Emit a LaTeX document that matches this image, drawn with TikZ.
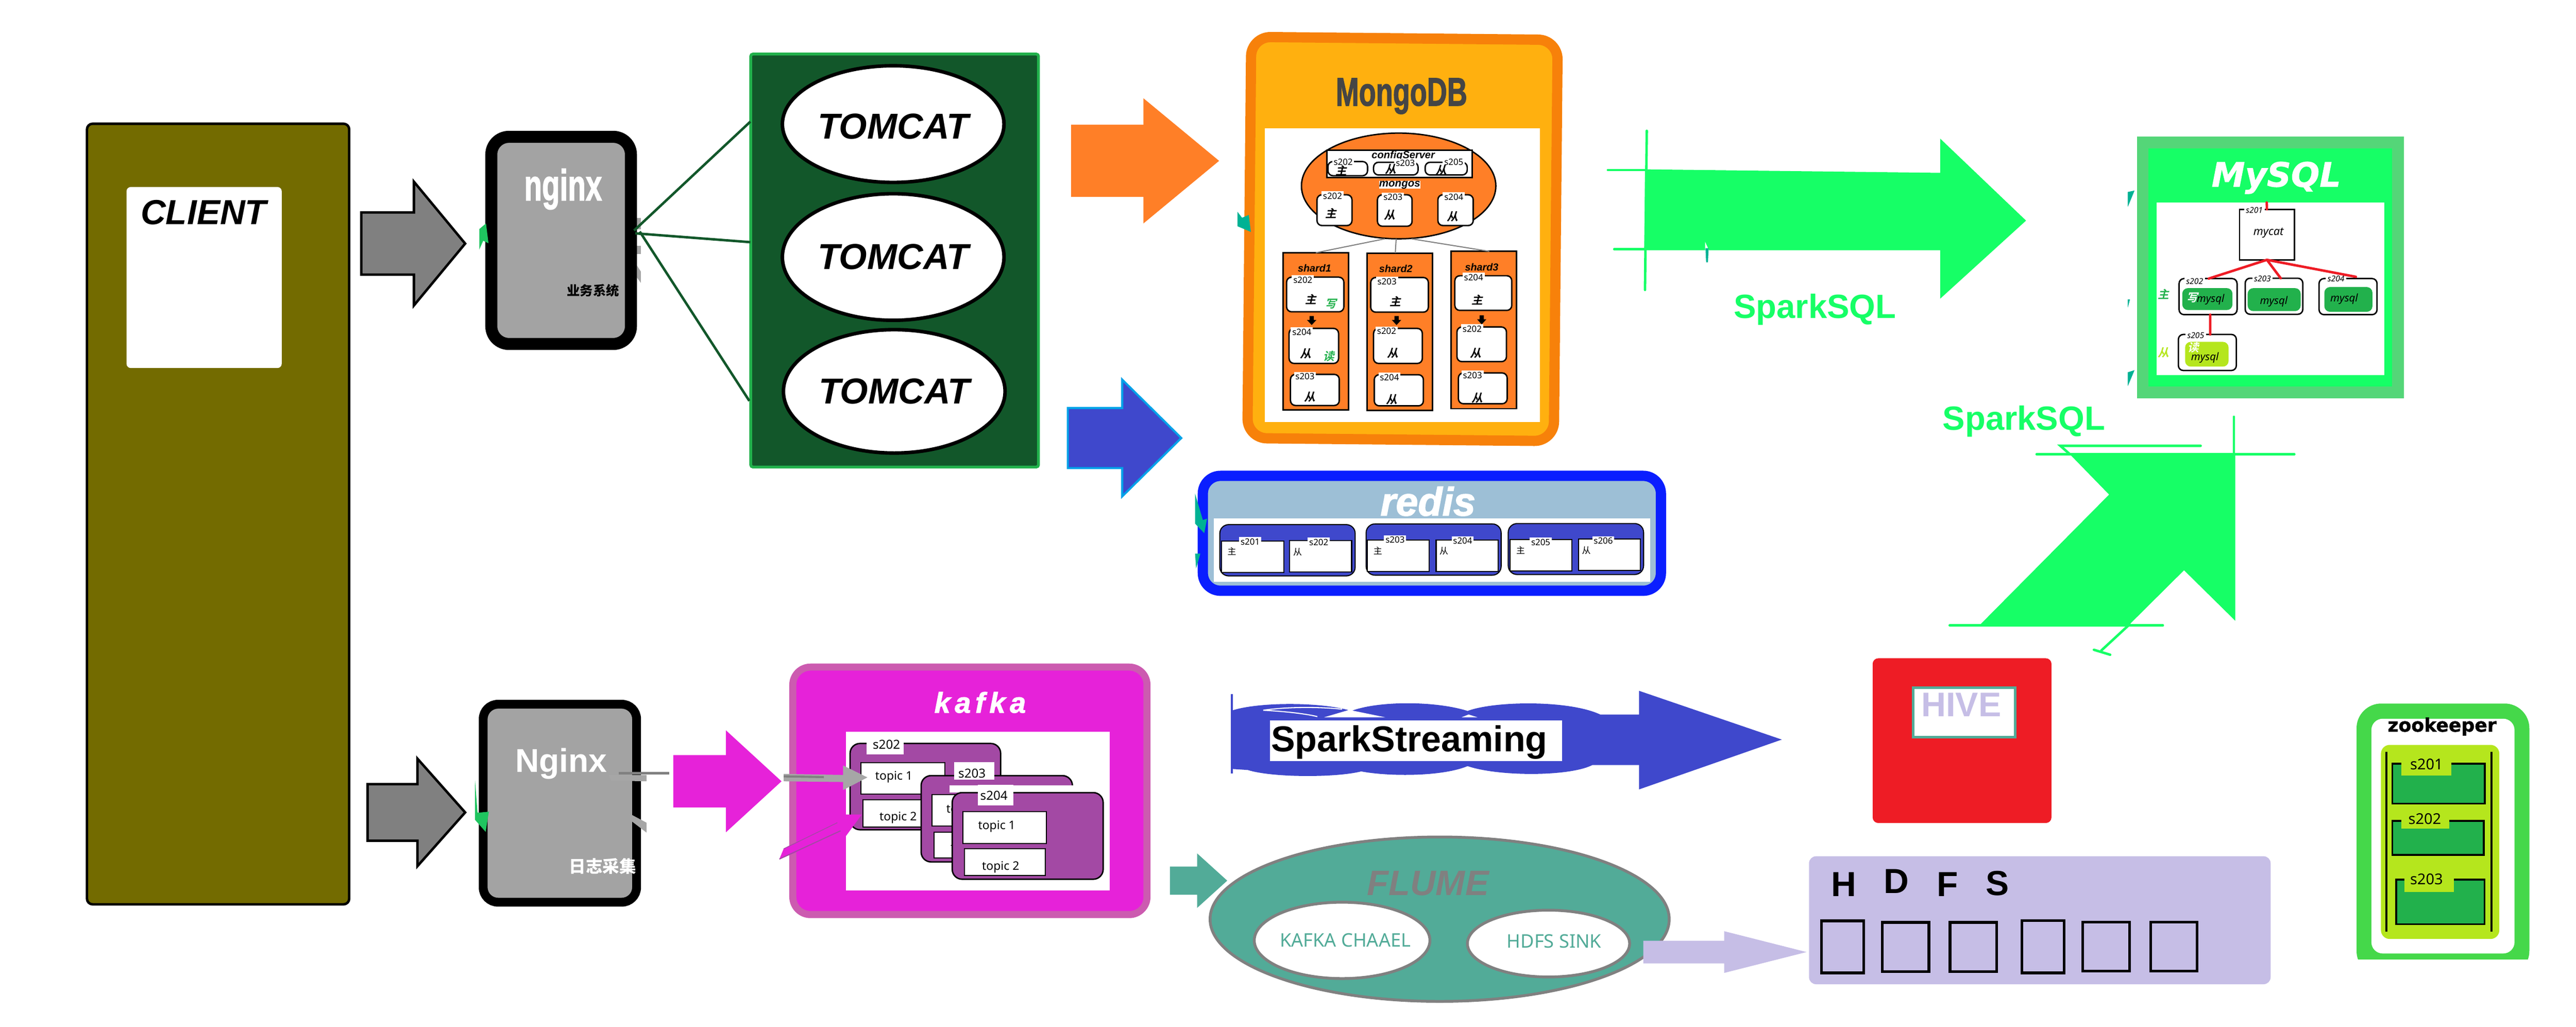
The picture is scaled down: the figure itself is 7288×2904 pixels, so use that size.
\documentclass[tikz,border=0pt]{standalone}
\usepackage{fontspec}
\setmainfont{Liberation Sans}
\newfontfamily\yh{Noto Sans}
\newfontfamily\heavy[BoldFeatures={FakeBold=2},BoldItalicFeatures={FakeBold=2}]{Liberation Sans}
\newfontfamily\djv[BoldFeatures={FakeBold=1.2},BoldItalicFeatures={FakeBold=1.2}]{DejaVu Sans}
\newfontfamily\cjk{Noto Sans CJK SC}
\newfontfamily\cjkit[FakeSlant=0.22]{Noto Sans CJK SC Bold}
\usetikzlibrary{shapes.geometric,shadows}

\definecolor{olivebg}{HTML}{736B00}
\definecolor{nginxgray}{HTML}{A3A3A3}
\definecolor{tomcatgreen}{HTML}{12572A}
\definecolor{brightgreen}{HTML}{22B14C}
\definecolor{orangemain}{HTML}{FF7F27}
\definecolor{orangedark}{HTML}{F7810A}
\definecolor{ambermain}{HTML}{FFB00F}
\definecolor{bluemain}{HTML}{3F48CC}
\definecolor{bluesky}{HTML}{00A2E8}
\definecolor{redisblue}{HTML}{0A1EFF}
\definecolor{redispale}{HTML}{9DBFD6}
\definecolor{kafkamain}{HTML}{E622D9}
\definecolor{kafkaedge}{HTML}{CC5BB0}
\definecolor{kafkapurple}{HTML}{A349A4}
\definecolor{sparkgreen}{HTML}{16FF66}
\definecolor{mysqledge}{HTML}{54D678}
\definecolor{flumeteal}{HTML}{52AB98}
\definecolor{slivertealc}{HTML}{00B294}
\definecolor{arrowgreen}{HTML}{1FC45F}
\definecolor{hdfslav}{HTML}{C6BEE6}
\definecolor{hivered}{HTML}{EE1C25}
\definecolor{zoogreen}{HTML}{45D84A}
\definecolor{zoolime}{HTML}{B5E61D}
\definecolor{fragray}{HTML}{A6A6A6}

\tikzset{
  wh/.style 2 args={minimum width=(#1)*0.01cm, minimum height=(#2)*0.01cm, inner sep=0pt, outer sep=0pt},
  lw/.style={line width=(#1)*0.01cm},
  softshadow/.style={drop shadow={shadow xshift=0.05cm, shadow yshift=-0.07cm, opacity=.35, fill=black}},
  srvbox/.style={draw=black, fill=white, lw=4, rounded corners=0.14cm},
  sqbox/.style={draw=black, fill=white, lw=3},
  srvlabel/.style={fill=white, inner sep=1.2pt, font=\yh\fontsize{7}{7}\selectfont},
  rolemark/.style={inner sep=0pt, font=\cjkit\fontsize{9}{9}\selectfont},
  titletext/.style={inner sep=0pt, font=\bfseries\itshape\fontsize{#1}{#1}\selectfont},
  heavytext/.style={inner sep=0pt, font=\heavy\bfseries\itshape\fontsize{#1}{#1}\selectfont},
  topictext/.style={inner sep=0pt, font=\yh\fontsize{9.5}{9.5}\selectfont},
  mysqltext/.style={inner sep=0pt, font=\yh\itshape\fontsize{8.5}{8.5}\selectfont},
  mysqllabel/.style={fill=white, inner sep=1.5pt, font=\yh\itshape\fontsize{6.5}{6.5}\selectfont},
  sparkline/.style={draw=sparkgreen, lw=7, line cap=round},
  redline/.style={draw=hivered, lw=7, line cap=round},
}

\newcommand{\boxat}[6]{\node[wh={#4-#2}{#5-#3}, #6] (#1) at ({(#2+#4)/2},{(#3+#5)/2}) {};}
\newcommand{\blockarrow}[7]{\path[#1] (#2,{#5-#6}) -- (#3,{#5-#6}) -- (#3,{#5-#7}) -- (#4,#5) -- (#3,{#5+#7}) -- (#3,{#5+#6}) -- (#2,{#5+#6}) -- cycle;}

\begin{document}
\begin{tikzpicture}[x=0.01cm,y=-0.01cm]
  \useasboundingbox (0,0) rectangle (7288,2904);

  % client
  \boxat{client}{246}{350}{988}{2558}{draw=black, fill=olivebg, lw=7, rounded corners=0.16cm}
  \boxat{clientpage}{358}{529}{797}{1041}{fill=white, rounded corners=0.12cm}
  \node[titletext=28] (clienttext) at (576,601) {CLIENT};
  \blockarrow{draw=black, fill=gray, lw=7}{1022}{1171}{1316}{689}{88}{175}
  \blockarrow{draw=black, fill=gray, lw=7}{1040}{1181}{1316}{2298}{80}{152}

  % nginx upper
  \fill[fragray] (1802,617) -- (1813,617) -- (1813,648) -- (1802,648) -- cycle;
  \fill[fragray] (1802,695) -- (1813,695) -- (1813,719) -- (1802,719) -- cycle;
  \fill[fragray] (1802,751) -- (1813,768) -- (1813,800) -- (1802,785) -- cycle;
  \boxat{nginxa}{1390}{387}{1785}{973}{draw=black, fill=nginxgray, lw=34, rounded corners=0.5cm, softshadow}
  \node[inner sep=0pt, text=white, font=\heavy\bfseries\fontsize{35}{35}\selectfont] (nginxatext) at (1593,535) {\scalebox{.67}[1]{nginx}};
  \node[inner sep=0pt, font=\cjk\bfseries\fontsize{10.5}{10.5}\selectfont] (nginxasub) at (1678,822) {业务系统};
  \fill[arrowgreen] (1356,648) -- (1375,632) -- (1382,688) -- (1367,681) -- (1356,706) -- cycle;

  % tomcat
  \boxat{tomcat}{2124}{153}{2938}{1321}{draw=brightgreen, fill=tomcatgreen, lw=8, rounded corners=0.06cm}
  \foreach \n/\y/\h/\x/\ty in {tomcata/351/330/2527/358, tomcatb/727/358/2527/727, tomcatc/1107/349/2530/1107}{
    \node[ellipse, draw=black, fill=white, lw=10, wh={627}{\h}] (\n) at (\x,\y) {};
    \node[titletext=29] (\n text) at (\x,\ty) {TOMCAT};
  }
  \coordinate (fana) at (1794,652);
  \coordinate (fanb) at (1797,660);
  \coordinate (fanc) at (1810,655);
  \coordinate (tomcata in) at (2123,344);
  \coordinate (tomcatb in) at (2123,685);
  \coordinate (tomcatc in) at (2120,1134);
  \draw[tomcatgreen, lw=7] (fana) -- (tomcata in);
  \draw[tomcatgreen, lw=7] (fanb) -- (tomcatb in);
  \draw[tomcatgreen, lw=7] (fanc) -- (tomcatc in);

  \blockarrow{fill=orangemain}{3030}{3235}{3449}{455}{102}{177}
  \blockarrow{draw=bluesky, fill=bluemain, lw=6}{3021}{3175}{3342}{1239}{85}{165}

  % mongodb
  \node[wh={867}{1135}, draw=orangedark, fill=ambermain, lw=29, rounded corners=0.55cm, rotate=-0.55, softshadow] (mongodb) at (3968,676) {};
  \boxat{mongopage}{3579}{363}{4356}{1194}{fill=white}
  \node[inner sep=0pt, text=black!73, font=\heavy\bfseries\fontsize{32}{32}\selectfont] (mongotext) at (3965,272) {\scalebox{.7}[1]{MongoDB}};
  \node[ellipse, draw=black, fill=orangemain, lw=4, wh={550}{299}] (mongos) at (3957,526) {};
  \boxat{configbox}{3754}{425}{4165}{502}{draw=black, fill=white, lw=5}
  \node[titletext=8.3] (configtext) at (3970,440) {configServer};
  \node[fill=white, inner sep=1.5pt, titletext=8.5] (mongostext) at (3960,523) {mongos};

  \boxat{sharda}{3630}{715}{3815}{1160}{draw=black, fill=orangemain, lw=4}
  \boxat{shardb}{3868}{716}{4053}{1161}{draw=black, fill=orangemain, lw=4}
  \boxat{shardc}{4105}{711}{4290}{1156}{draw=black, fill=orangemain, lw=4}
  \draw[gray, lw=3] ([xshift=-0.39cm]mongos.south) -- (sharda.north);
  \draw[gray, lw=3] ([xshift=-0.07cm]mongos.south) -- ([xshift=-0.13cm]shardb.north);
  \draw[gray, lw=3] ([xshift=0.36cm]mongos.south) -- ([xshift=0.16cm]shardc.north);
  \node[titletext=8.2] (shardatext) at (3719,758) {shard1};
  \node[titletext=8.2] (shardbtext) at (3949,760) {shard2};
  \node[titletext=8.2] (shardctext) at (4192,756) {shard3};

  \foreach \n/\xa/\ya/\xb/\yb/\lab/\lx/\ly/\role/\rx/\ry in {
    cfga/3757/457/3869/497/s202/3800/459/主/3794/483,
    cfgb/3886/459/4012/495/s203/3976/462/从/3935/479,
    cfgc/4032/459/4151/495/s205/4113/459/从/4078/482,
    msa/3726/551/3825/638/s202/3770/554/主/3765/604,
    msb/3897/551/3995/640/s203/3941/558/从/3932/608,
    msc/4068/551/4168/638/s204/4113/557/从/4109/613,
    sha/3640/784/3802/882/s202/3686/792/主/3708/846,
    shb/3647/929/3787/1028/s204/3683/939/从/3694/1001,
    shc/3651/1059/3789/1147/s203/3692/1065/从/3705/1123,
    shd/3878/785/4041/883/s203/3924/796/主/3947/853,
    she/3886/929/4024/1028/s202/3923/937/从/3941/999,
    shf/3888/1060/4027/1148/s204/3931/1067/从/3937/1130,
    shg/4116/780/4277/878/s204/4169/785/主/4180/848,
    shh/4122/925/4262/1023/s202/4165/930/从/4175/999,
    shi/4126/1055/4264/1142/s203/4166/1062/从/4179/1126}{
    \boxat{\n}{\xa}{\ya}{\xb}{\yb}{srvbox}
    \node[srvlabel] (\n label) at (\lx,\ly) {\lab};
    \node[rolemark] (\n role) at (\rx,\ry) {\role};
  }
  \node[rolemark, text=brightgreen] (shawrite) at (3765,859) {写};
  \node[rolemark, text=brightgreen] (shbread) at (3759,1007) {读};
  \foreach \x/\y in {3711/895, 3951/895, 4192/893}{
    \draw[fill=white, black, lw=2] ({\x-5},\y) -- ({\x+5},\y) -- ({\x+5},{\y+11}) -- ({\x+11},{\y+11}) -- (\x,{\y+23}) -- ({\x-11},{\y+11}) -- ({\x-5},{\y+11}) -- cycle;
  }
  \fill[slivertealc] (3501,599) -- (3514,616) -- (3533,608) -- (3539,656) -- (3501,640) -- cycle;

  % redis
  \boxat{redis}{3403}{1346}{4699}{1671}{draw=redisblue, fill=redispale, lw=29, rounded corners=0.5cm, softshadow}
  \boxat{redispage}{3434}{1467}{4668}{1646}{fill=white}
  \node[heavytext=32, text=white] (redistext) at (4040,1418) {redis};
  \foreach \n/\xa/\ya/\xb/\yb in {rga/3451/1484/3834/1629, rgb/3865/1482/4247/1627, rgc/4267/1481/4650/1625}{
    \boxat{\n}{\xa}{\ya}{\xb}{\yb}{draw=black, fill=bluemain, lw=3, rounded corners=0.25cm}
  }
  \foreach \n/\xa/\ya/\xb/\yb/\lab/\lx/\ly/\role/\rx/\ry in {
    rsa/3456/1530/3632/1619/s201/3537/1532/主/3485/1560,
    rsb/3649/1529/3824/1618/s202/3731/1534/从/3671/1561,
    rsc/3869/1528/4044/1617/s203/3947/1527/主/3898/1558,
    rsd/4063/1527/4238/1616/s204/4138/1530/从/4085/1559,
    rse/4272/1526/4447/1615/s205/4359/1534/主/4302/1557,
    rsf/4466/1525/4641/1614/s206/4536/1530/从/4488/1557}{
    \boxat{\n}{\xa}{\ya}{\xb}{\yb}{sqbox}
    \node[srvlabel] (\n label) at (\lx,\ly) {\lab};
    \node[inner sep=0pt, font=\cjk\fontsize{7}{7}\selectfont] (\n role) at (\rx,\ry) {\role};
  }
  \fill[slivertealc] (3381,1396) -- (3403,1471) -- (3415,1467) -- (3407,1508) -- (3381,1481) -- cycle;
  \fill[slivertealc] (3381,1566) -- (3396,1566) -- (3384,1608) -- cycle;

  % spark sql
  \fill[sparkgreen] (4654,479) -- (5489,489) -- (5489,392) -- (5732,624) -- (5489,845) -- (5489,708) -- (4652,708) -- cycle;
  \fill[white] (4824,684) -- (4835,708) -- (4824,708) -- cycle;
  \fill[slivertealc] (4825,702) -- (4834,702) -- (4832,742) -- (4827,742) -- cycle;
  \draw[sparkline] (4659,370) -- (4654,820);
  \draw[sparkline] (4549,481) -- (4654,481);
  \draw[sparkline] (4567,705) -- (4654,705);
  \node[inner sep=0pt, text=sparkgreen, font=\bfseries\fontsize{27}{27}\selectfont] (sparksqla) at (5135,876) {SparkSQL};
  \node[inner sep=0pt, text=sparkgreen, font=\bfseries\fontsize{27}{27}\selectfont] (sparksqlb) at (5726,1192) {SparkSQL};
  \fill[sparkgreen] (5855,1284) -- (6324,1284) -- (6324,1756) -- (6179,1613) -- (6025,1766) -- (5601,1768) -- (5967,1399) -- cycle;
  \draw[sparkline] (5762,1285) -- (6491,1285);
  \draw[sparkline] (6320,1179) -- (6320,1285);
  \draw[sparkline] (5516,1769) -- (6119,1769);
  \draw[sparkline] (6226,1261) -- (5829,1261) -- (5855,1284);
  \draw[sparkline] (6025,1766) -- (5945,1840);
  \draw[sparkline] (5924,1838) -- (5970,1852);
  \foreach \x/\y in {5672/964, 6696/1656, 5400/1585}{
    \fill[sparkgreen] (\x,\y) circle [radius=0.04];
  }

  % mysql
  \fill[slivertealc] (6020,543) -- (6039,539) -- (6020,585) -- cycle;
  \fill[slivertealc] (6020,847) -- (6026,847) -- (6020,870) -- cycle;
  \fill[slivertealc] (6020,1053) -- (6039,1047) -- (6020,1092) -- cycle;
  \boxat{mysql}{6062}{403}{6784}{1110}{draw=mysqledge, fill=sparkgreen, lw=33, softshadow}
  \boxat{mysqlpage}{6102}{573}{6745}{1061}{fill=white}
  \node[inner sep=0pt, text=white, font=\djv\bfseries\itshape\fontsize{27}{27}\selectfont] (mysqltext) at (6440,503) {MySQL};
  \boxat{mycat}{6336}{592}{6491}{735}{draw=black, fill=white, lw=4}
  \node[mysqllabel] (mycatlabel) at (6378,594) {s201};
  \node[inner sep=0pt, font=\yh\itshape\fontsize{9}{9}\selectfont] (mycattext) at (6418,659) {mycat};
  \foreach \n/\xa/\ya/\xb/\yb/\lab/\lx/\ly/\ia/\ib/\ic/\id/\col/\tx/\ty in {
    mya/6165/788/6329/890/s202/6209/795/6174/815/6316/877/brightgreen/6254/847,
    myb/6352/787/6515/889/s203/6401/789/6359/815/6509/880/brightgreen/6433/853,
    myc/6561/788/6725/890/s204/6609/789/6576/812/6712/882/brightgreen/6632/845,
    myd/6163/946/6327/1048/s205/6212/949/6182/967/6305/1037/zoolime/6238/1012}{
    \boxat{\n}{\xa}{\ya}{\xb}{\yb}{srvbox}
    \boxat{\n db}{\ia}{\ib}{\ic}{\id}{fill=\col, rounded corners=0.16cm}
    \node[mysqllabel] (\n label) at (\lx,\ly) {\lab};
    \node[mysqltext] (\n text) at (\tx,\ty) {mysql};
  }
  \node[rolemark, text=white] (mywrite) at (6203,842) {写};
  \node[rolemark, text=white] (myread) at (6206,983) {读};
  \node[rolemark, text=brightgreen] (mymaster) at (6121,832) {主};
  \node[rolemark, text=zoolime] (myslave) at (6121,997) {从};
  \coordinate (mycattop) at (6413,573);
  \draw[redline] (mycattop) -- (mycat.north);
  \draw[redline] (mycat.south) -- ([xshift=0.02cm]mya.north);
  \draw[redline] (mycat.south) -- ([xshift=0.19cm]myb.north);
  \draw[redline] (mycat.south) -- ([xshift=0.22cm,yshift=0.05cm]myc.north);
  \draw[redline] ([xshift=0.06cm]mya.south) -- ([xshift=0.08cm]myd.north);

  % nginx lower
  \boxat{nginxb}{1367}{1992}{1801}{2552}{draw=black, fill=nginxgray, lw=25, rounded corners=0.42cm, softshadow}
  \fill[fragray] (1722,2192) -- (1829,2192) -- (1829,2210) -- (1729,2208) -- cycle;
  \fill[fragray] (1782,2302) -- (1829,2327) -- (1829,2355) -- (1782,2319) -- cycle;
  \fill[gray] (1751,2183) -- (1893,2183) -- (1893,2191) -- (1751,2191) -- cycle;
  \node[inner sep=0pt, text=white, font=\bfseries\fontsize{26.6}{26.6}\selectfont] (nginxbtext) at (1588,2160) {Nginx};
  \node[inner sep=0pt, text=white, font=\cjk\bfseries\fontsize{13.5}{13.5}\selectfont] (nginxbsub) at (1705,2450) {日志采集};
  \fill[arrowgreen] (1344,2207) -- (1351,2299) -- (1383,2296) -- (1374,2353) -- (1344,2319) -- cycle;

  % kafka
  \boxat{kafka}{2243}{1887}{3245}{2587}{draw=kafkaedge, fill=kafkamain, lw=20, rounded corners=0.5cm, softshadow}
  \boxat{kafkapage}{2393}{2070}{3139}{2518}{fill=white}
  \node[heavytext=23, text=white] (kafkatext) at (2773,1987) {\addfontfeature{LetterSpace=16}kafka};
  \foreach \n/\xa/\ya/\xb/\yb/\lab/\lbxa/\lbya/\lbxb/\lbyb/\lx/\ly in {
    ka/2405/2103/2831/2347/s202/2452/2090/2556/2134/2508/2106,
    kb/2606/2194/3034/2438/s203/2699/2156/2813/2206/2750/2187,
    kc/2694/2242/3121/2487/s204/2766/2220/2867/2278/2812/2250}{
    \ifnum\xa=2694 \fill[white] (2686,2222) rectangle (3036,2242); \fi
    \boxat{\n}{\xa}{\ya}{\xb}{\yb}{draw=black, fill=kafkapurple, lw=4, rounded corners=0.28cm}
    \fill[white] (\lbxa,\lbya) rectangle (\lbxb,\lbyb);
    \node[inner sep=0pt, font=\yh\fontsize{10}{10}\selectfont] (\n label) at (\lx,\ly) {\lab};
    \ifnum\xa=2405
      \boxat{\n ta}{2436}{2157}{2673}{2246}{sqbox}
      \boxat{\n tb}{2441}{2262}{2673}{2339}{sqbox}
      \node[topictext] (\n tat) at (2529,2198) {topic 1};
      \node[topictext] (\n tbt) at (2541,2313) {topic 2};
    \fi
    \ifnum\xa=2606
      \boxat{\n ta}{2637}{2248}{2874}{2337}{sqbox}
      \boxat{\n tb}{2642}{2354}{2874}{2427}{sqbox}
      \node[topictext] (\n tat) at (2730,2291) {topic 1};
      \node[topictext] (\n tbt) at (2742,2401) {topic 2};
    \fi
    \ifnum\xa=2694
      \boxat{\n ta}{2724}{2296}{2961}{2386}{sqbox}
      \boxat{\n tb}{2729}{2401}{2958}{2477}{sqbox}
      \node[topictext] (\n tat) at (2820,2337) {topic 1};
      \node[topictext] (\n tbt) at (2831,2453) {topic 2};
    \fi
  }
  \blockarrow{fill=kafkamain}{1905}{2054}{2211}{2210}{74}{144}
  \fill[fragray] (2217,2189) -- (2385,2192) -- (2385,2165) -- (2454,2199) -- (2385,2235) -- (2385,2212) -- (2217,2210) -- cycle;
  \fill[gray] (2217,2193) -- (2331,2195) -- (2331,2201) -- (2217,2199) -- cycle;
  \fill[kafkamain] (2438,2304) -- (2358,2304) -- (2369,2327) -- (2217,2401) -- (2205,2430) -- (2264,2406) -- (2378,2350) -- (2391,2368) -- cycle;
  \draw[kafkapurple, lw=3] (2205,2430) -- (2378,2350);
  \draw[kafkapurple, lw=2] (2217,2401) -- (2369,2327);

  % spark streaming
  \fill[bluemain] (3485,2010) .. controls (3560,1985) and (3740,1985) .. (3823,2011) .. controls (3900,1982) and (4060,1982) .. (4152,2011) .. controls (4230,1982) and (4440,1980) .. (4527,2021) -- (4637,2021) -- (4637,1954) -- (5041,2092) -- (4637,2233) -- (4637,2164) -- (4505,2164) .. controls (4440,2197) and (4240,2197) .. (4152,2167) .. controls (4080,2197) and (3930,2197) .. (3851,2182) .. controls (3780,2200) and (3600,2200) .. (3530,2178) -- (3485,2175) -- cycle;
  \draw[bluemain, lw=7] (3485,1963) -- (3485,2188);
  \fill[white] (3746,2029) -- (3817,2008) -- (3919,2029) -- cycle;
  \fill[white] (4135,2029) -- (4155,2021) -- (4180,2029) -- cycle;
  \draw[white, lw=3] (3574,2009) .. controls (3650,1998) and (3740,2000) .. (3797,2006);
  \draw[white, lw=3] (3574,2009) .. controls (3630,2012) and (3690,2018) .. (3727,2027);
  \boxat{sparkpage}{3593}{2037}{4420}{2153}{fill=white}
  \node[inner sep=0pt, font=\bfseries\fontsize{29}{29}\selectfont] (sparkstream) at (3987,2100) {SparkStreaming};

  % hive
  \boxat{hive}{5298}{1862}{5804}{2328}{fill=hivered, rounded corners=0.16cm}
  \boxat{hivepage}{5413}{1945}{5701}{2085}{draw=flumeteal, fill=white, lw=8}
  \node[inner sep=0pt, text=hdfslav, font=\bfseries\fontsize{27.5}{27.5}\selectfont] (hivetext) at (5549,1994) {HIVE};

  % flume
  \blockarrow{fill=flumeteal}{3310}{3387}{3472}{2491}{40}{77}
  \node[ellipse, draw=gray, fill=flumeteal, lw=8, wh={1299}{465}] (flume) at (4073,2600) {};
  \node[titletext=28.4, text=gray] (flumetext) at (4040,2498) {FLUME};
  \node[ellipse, draw=gray, fill=white, lw=8, wh={497}{216}] (kafkachannel) at (3797,2660) {};
  \node[ellipse, draw=gray, fill=white, lw=8, wh={459}{189}] (hdfssink) at (4381,2669) {};
  \node[inner sep=0pt, text=flumeteal, font=\yh\fontsize{15}{15}\selectfont] (kafkachanneltext) at (3806,2659) {KAFKA CHAAEL};
  \node[inner sep=0pt, text=flumeteal, font=\yh\fontsize{15}{15}\selectfont] (hdfssinktext) at (4397,2663) {HDFS SINK};
  \blockarrow{fill=hdfslav}{4649}{4878}{5111}{2693}{32}{59}

  % hdfs
  \boxat{hdfs}{5118}{2422}{6424}{2784}{fill=hdfslav, rounded corners=0.2cm}
  \foreach \n/\c/\x/\y in {hdfsh/H/5217/2501, hdfsd/D/5365/2493, hdfsf/F/5510/2501, hdfss/S/5651/2498}{
    \node[inner sep=0pt, font=\bfseries\fontsize{28}{28}\selectfont] (\n) at (\x,\y) {\c};
  }
  \foreach \n/\xa/\ya/\xb/\yb in {blocka/5153/2605/5273/2752, blockb/5325/2609/5457/2748, blockc/5517/2609/5649/2748, blockd/5720/2604/5840/2752, blocke/5892/2608/6025/2747, blockf/6085/2608/6216/2747}{
    \boxat{\n}{\xa}{\ya}{\xb}{\yb}{draw=black, lw=8}
  }

  % zookeeper
  \begin{scope}
    \clip (6600,1950) rectangle (7288,2714);
    \boxat{zoo}{6667}{1990}{7156}{2760}{fill=zoogreen, rounded corners=0.7cm}
  \end{scope}
  \boxat{zoopage}{6709}{2033}{7114}{2697}{fill=white, rounded corners=0.32cm}
  \node[inner sep=0pt, font=\djv\bfseries\fontsize{15}{15}\selectfont] (zootext) at (6909,2055) {zookeeper};
  \boxat{zoolimebox}{6736}{2107}{7071}{2656}{fill=zoolime, rounded corners=0.25cm}
  \coordinate (zoolefta) at (6752,2126);
  \coordinate (zooleftb) at (6752,2635);
  \coordinate (zoorighta) at (7049,2126);
  \coordinate (zoorightb) at (7049,2635);
  \draw[black, lw=6] (zoolefta) -- (zooleftb);
  \draw[black, lw=6] (zoorighta) -- (zoorightb);
  \foreach \n/\xa/\ya/\xb/\yb/\lab/\lbxa/\lbya/\lbxb/\lbyb/\lx/\ly in {
    zka/6768/2160/7030/2273/s201/6794/2154/6935/2193/6865/2162,
    zkb/6768/2322/7027/2418/s202/6794/2302/6930/2344/6860/2317,
    zkc/6779/2488/7029/2614/s203/6803/2475/6943/2523/6865/2487}{
    \boxat{\n}{\xa}{\ya}{\xb}{\yb}{draw=black, fill=brightgreen, lw=5}
    \fill[zoolime] (\lbxa,\lbya) rectangle (\lbxb,\lbyb);
    \node[inner sep=0pt, font=\yh\fontsize{12}{12}\selectfont] (\n label) at (\lx,\ly) {\lab};
  }
\end{tikzpicture}
\end{document}
